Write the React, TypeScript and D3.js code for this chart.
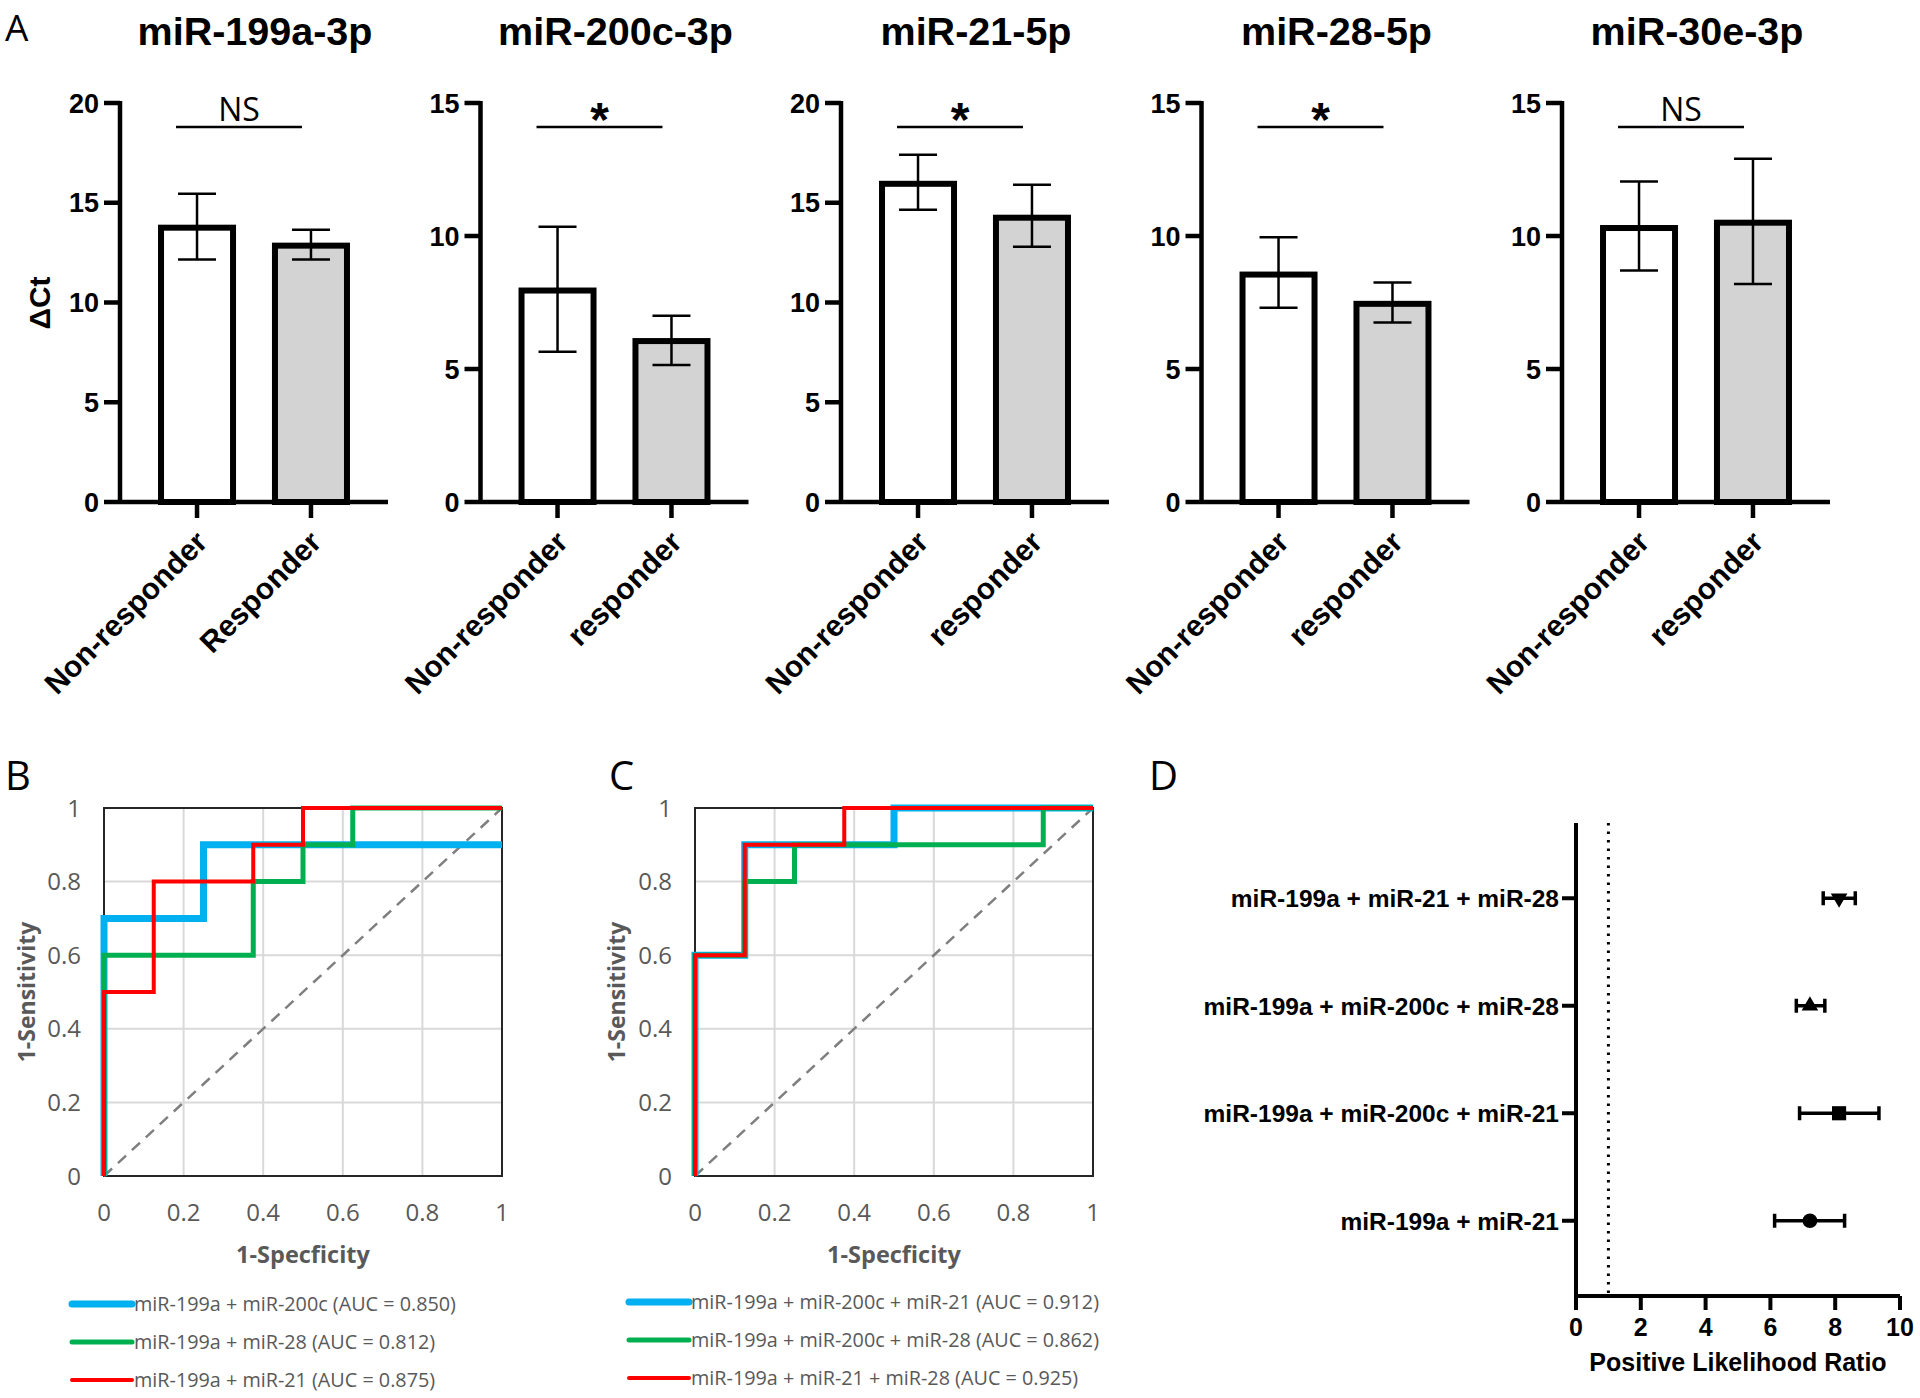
import React from 'react';
import * as d3 from 'd3';

// ---------------- Panel A data ----------------
const genes = ['miR-199a-3p', 'miR-200c-3p', 'miR-21-5p', 'miR-28-5p', 'miR-30e-3p'];
const groupNames = [
  ['Non-responder', 'Responder'],
  ['Non-responder', 'responder'],
  ['Non-responder', 'responder'],
  ['Non-responder', 'responder'],
  ['Non-responder', 'responder'],
];
const yMaxValues = [20, 15, 20, 15, 15];
const yTickStep = 5;
const nonResponderMean = [13.75, 7.95, 15.95, 8.55, 10.3];
const nonResponderLow = [12.15, 5.65, 14.65, 7.3, 8.7];
const nonResponderHigh = [15.45, 10.35, 17.4, 9.95, 12.05];
const responderMean = [12.85, 6.05, 14.25, 7.45, 10.5];
const responderLow = [12.15, 5.15, 12.8, 6.75, 8.2];
const responderHigh = [13.65, 7.0, 15.9, 8.25, 12.9];
const significance = ['NS', '*', '*', '*', 'NS'];
const significanceLevel = [18.8, 14.1, 18.8, 14.1, 14.1];

// ---------------- Panel B data ----------------
const rocTicks = [0, 0.2, 0.4, 0.6, 0.8, 1];
const rocBLabels = [
  'miR-199a + miR-200c (AUC = 0.850)',
  'miR-199a + miR-28 (AUC = 0.812)',
  'miR-199a + miR-21 (AUC = 0.875)',
];
const rocB_200c: [number, number][] = [[0, 0], [0, 0.7], [0.25, 0.7], [0.25, 0.9], [1, 0.9]];
const rocB_28: [number, number][] = [[0, 0], [0, 0.6], [0.375, 0.6], [0.375, 0.8], [0.5, 0.8], [0.5, 0.9], [0.625, 0.9], [0.625, 1], [1, 1]];
const rocB_21: [number, number][] = [[0, 0], [0, 0.5], [0.125, 0.5], [0.125, 0.8], [0.375, 0.8], [0.375, 0.9], [0.5, 0.9], [0.5, 1], [1, 1]];

// ---------------- Panel C data ----------------
const rocCLabels = [
  'miR-199a + miR-200c + miR-21 (AUC = 0.912)',
  'miR-199a + miR-200c + miR-28 (AUC = 0.862)',
  'miR-199a + miR-21 + miR-28 (AUC = 0.925)',
];
const rocC_200c_21: [number, number][] = [[0, 0], [0, 0.6], [0.125, 0.6], [0.125, 0.9], [0.5, 0.9], [0.5, 1], [1, 1]];
const rocC_200c_28: [number, number][] = [[0, 0], [0, 0.6], [0.125, 0.6], [0.125, 0.8], [0.25, 0.8], [0.25, 0.9], [0.875, 0.9], [0.875, 1], [1, 1]];
const rocC_21_28: [number, number][] = [[0, 0], [0, 0.6], [0.125, 0.6], [0.125, 0.9], [0.375, 0.9], [0.375, 1], [1, 1]];

// ---------------- Panel D data ----------------
const forestLabels = [
  'miR-199a + miR-21 + miR-28',
  'miR-199a + miR-200c + miR-28',
  'miR-199a + miR-200c + miR-21',
  'miR-199a + miR-21',
];
const forestValue = [8.12, 7.22, 8.12, 7.22];
const forestLow = [7.63, 6.8, 6.9, 6.13];
const forestHigh = [8.62, 7.68, 9.35, 8.29];
const forestTicks = [0, 2, 4, 6, 8, 10];
const forestRef = 1;

// ---------------- styles ----------------
const SANS = "'Liberation Sans', Arial, sans-serif";
const OPEN = "'Open Sans', 'Noto Sans', sans-serif";
const GRAY = '#595959';
const rocColors = ['#00b0f0', '#00b050', '#ff0000'];
const rocWidths = [7, 5, 4];
const barFills = ['#ffffff', '#d3d3d3'];

function BarPanel({ i }: { i: number }) {
  const x0 = 120 + i * 360.5;
  const plotW = 268;
  const yTop = 103;
  const yZero = 502;
  const y = d3.scaleLinear().domain([0, yMaxValues[i]]).range([yZero, yTop]);
  const groups = groupNames[i];
  const xb = d3.scaleBand<string>().domain(groups).range([x0, x0 + plotW]).paddingInner(0.368).paddingOuter(0.36);
  const ticks = d3.range(0, yMaxValues[i] + 0.001, yTickStep);
  const means = [nonResponderMean[i], responderMean[i]];
  const lows = [nonResponderLow[i], responderLow[i]];
  const highs = [nonResponderHigh[i], responderHigh[i]];
  const cx = (g: string) => (xb(g) as number) + xb.bandwidth() / 2;
  const c1 = cx(groups[0]);
  const c2 = cx(groups[1]);
  const sy = y(significanceLevel[i]);
  const isStar = significance[i] === '*';
  return (
    <g>
      <text x={x0 + plotW / 2 + 1} y={45} textAnchor="middle" fontFamily={SANS} fontWeight="bold" fontSize={39.5}>
        {genes[i]}
      </text>
      {groups.map((g, k) => (
        <rect key={g} x={xb(g)} y={y(means[k])} width={xb.bandwidth()} height={yZero - y(means[k])}
          fill={barFills[k]} stroke="#000" strokeWidth={6} />
      ))}
      {groups.map((g, k) => (
        <g key={'e' + g} stroke="#000" strokeWidth={2.5}>
          <line x1={cx(g)} x2={cx(g)} y1={y(lows[k])} y2={y(highs[k])} />
          <line x1={cx(g) - 19} x2={cx(g) + 19} y1={y(highs[k])} y2={y(highs[k])} />
          <line x1={cx(g) - 19} x2={cx(g) + 19} y1={y(lows[k])} y2={y(lows[k])} />
        </g>
      ))}
      <line x1={x0} x2={x0} y1={yTop - 2} y2={yZero + 2} stroke="#000" strokeWidth={4.5} />
      <line x1={x0} x2={x0 + plotW} y1={yZero} y2={yZero} stroke="#000" strokeWidth={4.5} />
      {ticks.map((t) => (
        <g key={t}>
          <line x1={x0 - 16} x2={x0} y1={y(t)} y2={y(t)} stroke="#000" strokeWidth={4.5} />
          <text x={x0 - 21} y={y(t)} dy="0.36em" textAnchor="end" fontFamily={SANS} fontWeight="bold" fontSize={27}>{t}</text>
        </g>
      ))}
      {groups.map((g) => (
        <g key={'t' + g}>
          <line x1={cx(g)} x2={cx(g)} y1={yZero} y2={yZero + 16} stroke="#000" strokeWidth={4.5} />
          <text transform={`translate(${cx(g) + 12},${544}) rotate(-45)`} textAnchor="end" fontFamily={SANS} fontWeight="bold" fontSize={30}>{g}</text>
        </g>
      ))}
      <line x1={c1 - 21} x2={c2 - 9} y1={sy} y2={sy} stroke="#000" strokeWidth={2.5} />
      {isStar ? (
        <text x={(c1 + c2) / 2 - 15} y={sy + 9} textAnchor="middle" fontFamily={SANS} fontWeight="bold" fontSize={48}>*</text>
      ) : (
        <text x={(c1 + c2) / 2 - 15} y={sy - 6} textAnchor="middle" fontFamily={OPEN} fontSize={32}>NS</text>
      )}
    </g>
  );
}

function RocPanel({ left, labelX, series, labels, legendX, legendY }:
  { left: number; labelX: number; series: [number, number][][]; labels: string[]; legendX: number; legendY: number[] }) {
  const w = 398;
  const top = 808;
  const bottom = 1176;
  const x = d3.scaleLinear().domain([0, 1]).range([left, left + w]);
  const y = d3.scaleLinear().domain([0, 1]).range([bottom, top]);
  const line = d3.line<[number, number]>().x((d) => x(d[0])).y((d) => y(d[1])).curve(d3.curveLinear);
  return (
    <g>
      {rocTicks.map((t) => (
        <g key={t}>
          <line x1={x(t)} x2={x(t)} y1={top} y2={bottom} stroke="#d9d9d9" strokeWidth={2} />
          <line x1={left} x2={left + w} y1={y(t)} y2={y(t)} stroke="#d9d9d9" strokeWidth={2} />
          <text x={left - 23} y={y(t)} dy="0.36em" textAnchor="end" fontFamily={OPEN} fontSize={24} fill={GRAY}>{t}</text>
          <text x={x(t)} y={bottom + 45} textAnchor="middle" fontFamily={OPEN} fontSize={24} fill={GRAY}>{t}</text>
        </g>
      ))}
      <rect x={left} y={top} width={w} height={bottom - top} fill="none" stroke="#262626" strokeWidth={2} />
      <line x1={x(0)} y1={y(0)} x2={x(1)} y2={y(1)} stroke="#7f7f7f" strokeWidth={2.5} strokeDasharray="11,8" />
      {series.map((s, k) => (
        <path key={k} d={line(s) as string} fill="none" stroke={rocColors[k]} strokeWidth={rocWidths[k]} strokeLinejoin="miter" />
      ))}
      <text x={left + w / 2} y={bottom + 87} textAnchor="middle" fontFamily={OPEN} fontWeight="bold" fontSize={23.5} fill={GRAY}>1-Specficity</text>
      <text transform={`translate(${labelX},${(top + bottom) / 2}) rotate(-90)`} textAnchor="middle" fontFamily={OPEN} fontWeight="bold" fontSize={23} fill={GRAY}>1-Sensitivity</text>
      {labels.map((lab, k) => (
        <g key={lab}>
          <line x1={legendX} x2={legendX + 60} y1={legendY[k]} y2={legendY[k]} stroke={rocColors[k]} strokeWidth={rocWidths[k]} strokeLinecap="round" />
          <text x={legendX + 62} y={legendY[k]} dy="0.36em" fontFamily={OPEN} fontSize={19.8} fill={GRAY}>{lab}</text>
        </g>
      ))}
    </g>
  );
}

function ForestPanel() {
  const left = 1576;
  const right = 1900;
  const top = 823;
  const bottom = 1296;
  const x = d3.scaleLinear().domain([0, 10]).range([left, right]);
  const y = d3.scalePoint<string>().domain(forestLabels).range([top, bottom]).padding(0.7);
  const symbols = [
    d3.symbol().type(d3.symbolTriangle).size(120)(),
    d3.symbol().type(d3.symbolTriangle).size(120)(),
    d3.symbol().type(d3.symbolSquare).size(200)(),
    d3.symbol().type(d3.symbolCircle).size(170)(),
  ];
  const rot = [180, 0, 0, 0];
  return (
    <g>
      <line x1={x(forestRef)} x2={x(forestRef)} y1={top} y2={bottom} stroke="#000" strokeWidth={3} strokeDasharray="2.5,6" />
      <line x1={left} x2={left} y1={top} y2={bottom + 2} stroke="#000" strokeWidth={4} />
      <line x1={left - 2} x2={right} y1={bottom} y2={bottom} stroke="#000" strokeWidth={4} />
      {forestTicks.map((t) => (
        <g key={t}>
          <line x1={x(t)} x2={x(t)} y1={bottom} y2={bottom + 14} stroke="#000" strokeWidth={4} />
          <text x={x(t)} y={bottom + 40} textAnchor="middle" fontFamily={SANS} fontWeight="bold" fontSize={25}>{t}</text>
        </g>
      ))}
      {forestLabels.map((lab, k) => {
        const yy = y(lab) as number;
        return (
          <g key={lab}>
            <line x1={left - 14} x2={left} y1={yy} y2={yy} stroke="#000" strokeWidth={4} />
            <text x={left - 17} y={yy} dy="0.36em" textAnchor="end" fontFamily={SANS} fontWeight="bold" fontSize={24.5}>{lab}</text>
            <line x1={x(forestLow[k])} x2={x(forestHigh[k])} y1={yy} y2={yy} stroke="#000" strokeWidth={3.5} />
            <line x1={x(forestLow[k])} x2={x(forestLow[k])} y1={yy - 7} y2={yy + 7} stroke="#000" strokeWidth={3.5} />
            <line x1={x(forestHigh[k])} x2={x(forestHigh[k])} y1={yy - 7} y2={yy + 7} stroke="#000" strokeWidth={3.5} />
            <path d={symbols[k] as string} transform={`translate(${x(forestValue[k])},${yy}) rotate(${rot[k]})`} fill="#000" />
          </g>
        );
      })}
      <text x={(left + right) / 2} y={1371} textAnchor="middle" fontFamily={SANS} fontWeight="bold" fontSize={25}>Positive Likelihood Ratio</text>
    </g>
  );
}

export default function App() {
  return (
    <svg width={1920} height={1398} viewBox="0 0 1920 1398" style={{ position: 'absolute', left: 0, top: 0, background: '#fff' }}>
      <rect width={1920} height={1398} fill="#fff" />
      <text x={5} y={41} fontFamily={OPEN} fontSize={37}>A</text>
      <text transform="translate(50,303) rotate(-90)" textAnchor="middle" fontFamily={SANS} fontWeight="bold" fontSize={30}>ΔCt</text>
      {genes.map((g, i) => <BarPanel key={g} i={i} />)}
      <text x={5} y={790} fontFamily={OPEN} fontSize={40}>B</text>
      <text x={609} y={790} fontFamily={OPEN} fontSize={40}>C</text>
      <text x={1149} y={790} fontFamily={OPEN} fontSize={40}>D</text>
      <RocPanel left={104} labelX={35} series={[rocB_200c, rocB_28, rocB_21]} labels={rocBLabels} legendX={72} legendY={[1304, 1342, 1380]} />
      <RocPanel left={695} labelX={625} series={[rocC_200c_21, rocC_200c_28, rocC_21_28]} labels={rocCLabels} legendX={629} legendY={[1302, 1340, 1378]} />
      <ForestPanel />
    </svg>
  );
}
